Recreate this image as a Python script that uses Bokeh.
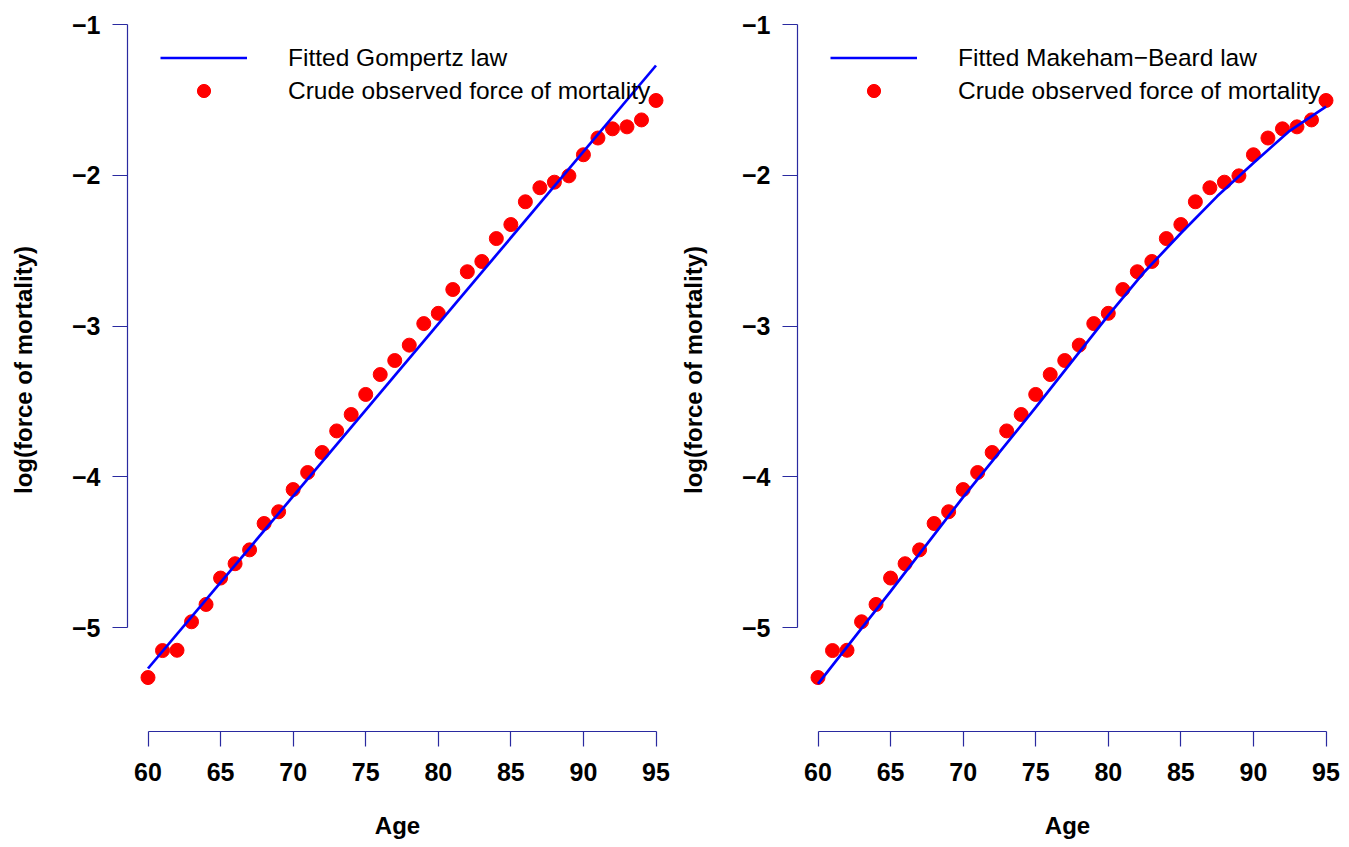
from bokeh.plotting import figure
from bokeh.models import Legend, LegendItem, FixedTicker, Range1d
from bokeh.layouts import row
from bokeh.embed import file_html
from bokeh.resources import INLINE

# ---------------- data ----------------
ages = list(range(60, 96))
observed_log_mu = [
    -5.332, -5.153, -5.151, -4.962, -4.847, -4.672, -4.577, -4.485, -4.310, -4.232,
    -4.085, -3.972, -3.839, -3.696, -3.587, -3.454, -3.322, -3.229, -3.127, -2.984,
    -2.916, -2.758, -2.640, -2.572, -2.420, -2.327, -2.176, -2.083, -2.046, -2.004,
    -1.864, -1.753, -1.692, -1.679, -1.633, -1.504,
]

gompertz_ages = [60, 95]
gompertz_fit = [-5.272, -1.272]

mb_ages = [60, 65, 70, 75, 80, 82.5, 85, 87.5, 90, 92.5, 95]
mb_fit = [-5.374, -4.760, -4.135, -3.540, -2.930, -2.640, -2.385, -2.140,
          -1.919, -1.705, -1.544]

x_ticks = [60, 65, 70, 75, 80, 85, 90, 95]
y_ticks = [-5, -4, -3, -2, -1]
y_tick_labels = ["\u22125", "\u22124", "\u22123", "\u22122", "\u22121"]

gompertz_label = "Fitted Gompertz law"
mb_label = "Fitted Makeham\u2212Beard law"
obs_label = "Crude observed force of mortality"
x_title = "Age"
y_title = "log(force of mortality)"

# ---------------- styling ----------------
FONT = "Liberation Sans"
AXIS_COL = "#2a2aa0"
PX_PER_YEAR = 508 / 35.0
PX_PER_UNIT = 150.75
FRAME_W = 540
FRAME_H = 723


def make_panel(fit_x, fit_y, fit_label, border_left, border_right):
    x0 = 60 - 20.5 / PX_PER_YEAR
    x1 = x0 + FRAME_W / PX_PER_YEAR
    y_top = -1 + 16 / PX_PER_UNIT
    y_bot = y_top - FRAME_H / PX_PER_UNIT
    p = figure(
        frame_width=FRAME_W, frame_height=FRAME_H,
        x_range=Range1d(x0, x1), y_range=Range1d(y_bot, y_top),
        output_backend="svg", toolbar_location=None, title=None,
        min_border_left=border_left, min_border_right=border_right,
        min_border_top=8, min_border_bottom=116,
    )
    p.outline_line_color = None
    p.xgrid.visible = False
    p.ygrid.visible = False
    p.background_fill_color = "white"
    p.border_fill_color = "white"

    pts = p.scatter(ages, observed_log_mu, size=14, fill_color="#ff0000",
                    line_color="#ff0000")
    ln = p.line(fit_x, fit_y, line_width=2.7, line_color="#0000ff")

    for ax in (p.xaxis[0], p.yaxis[0]):
        ax.axis_line_color = AXIS_COL
        ax.axis_line_width = 1.2
        ax.major_tick_line_color = AXIS_COL
        ax.major_tick_line_width = 1.2
        ax.major_tick_out = 15
        ax.major_tick_in = 0
        ax.minor_tick_out = 0
        ax.minor_tick_in = 0
        ax.major_label_text_font = FONT
        ax.major_label_text_font_size = "25px"
        ax.major_label_text_font_style = "bold"
        ax.major_label_text_color = "black"
        ax.axis_label_text_font = FONT
        ax.axis_label_text_font_size = "24px"
        ax.axis_label_text_font_style = "bold"
        ax.axis_label_text_color = "black"

    xa = p.xaxis[0]
    xa.ticker = FixedTicker(ticks=x_ticks)
    xa.bounds = (x_ticks[0], x_ticks[-1])
    xa.major_label_standoff = 16
    xa.axis_label = x_title
    xa.axis_label_standoff = 28

    ya = p.yaxis[0]
    ya.ticker = FixedTicker(ticks=y_ticks)
    ya.bounds = (y_ticks[0], y_ticks[-1])
    ya.major_label_overrides = {t: s for t, s in zip(y_ticks, y_tick_labels)}
    ya.major_label_standoff = 12
    ya.axis_label = y_title
    ya.axis_label_standoff = 32

    legend = Legend(
        items=[LegendItem(label=fit_label, renderers=[ln]),
               LegendItem(label=obs_label, renderers=[pts])],
        location=(33, 624),
        border_line_color=None, background_fill_alpha=0,
        padding=0, margin=0, spacing=0,
        glyph_width=87, glyph_height=33, label_height=33,
        label_standoff=41,
        label_text_font=FONT, label_text_font_size="24.5px",
        label_text_color="black",
    )
    p.add_layout(legend)
    return p


p1 = make_panel(gompertz_ages, gompertz_fit, gompertz_label, 127, 5)
p2 = make_panel(mb_ages, mb_fit, mb_label, 125, 5)

layout = row(p1, p2)
open("out.html", "w").write(file_html(layout, INLINE))
